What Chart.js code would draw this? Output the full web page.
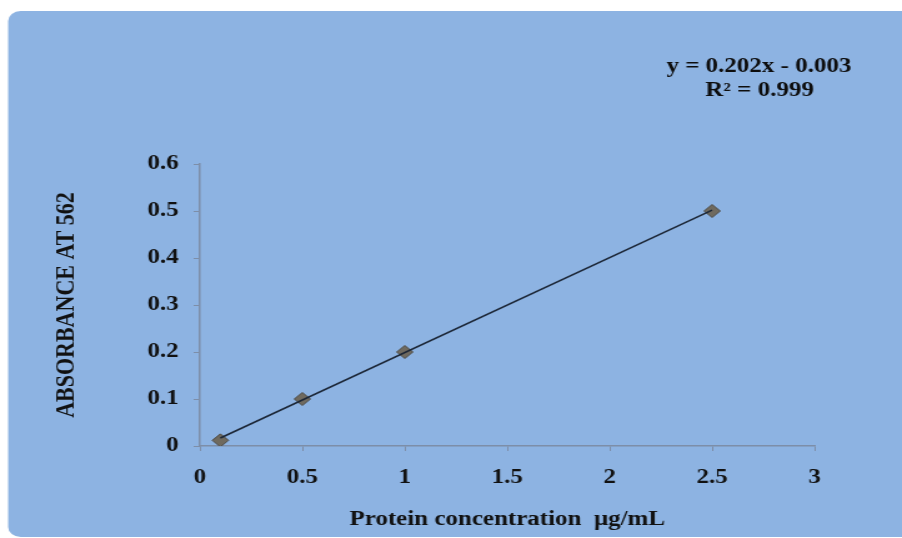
<!DOCTYPE html>
<html>
<head>
<meta charset="utf-8">
<script src="https://cdn.jsdelivr.net/npm/chart.js@4.4.0/dist/chart.umd.min.js"></script>
<style>
  html, body { margin: 0; padding: 0; background: #fff; }
  /* the original picture is stretched sideways, so the canvas is too */
  #std-curve { width: 902px; height: 538px; display: block; }
</style>
</head>
<body>
<canvas id="std-curve" width="722" height="538" style="width:902px;height:538px"></canvas>
<script>
// standard curve readings
let concentration = [0.1, 0.5, 1, 2.5];
let absorbance = [0.012, 0.1, 0.2, 0.5];
// trendline ends as drawn (y = 0.202x - 0.003)
let trendX = [0.1, 2.5];
let trendY = [0.017, 0.502];
let xTicks = [0, 0.5, 1, 1.5, 2, 2.5, 3];
let yTicks = [0, 0.1, 0.2, 0.3, 0.4, 0.5, 0.6];
let equation = ['y = 0.202x - 0.003', 'R\u00b2 = 0.999'];

let serif = "'Liberation Serif', 'Times New Roman', serif";
let axisColor = '#7d8ea8';

// blue rounded panel behind everything + the equation text
let panel = {
    id: 'panel',
    beforeDraw(chart) {
        let c = chart.ctx;
        c.save();
        c.fillStyle = '#8db3e2';
        c.beginPath();
        c.roundRect(6.5, 11, 730, 526, 10);
        c.fill();
        c.restore();
    },
    afterDraw(chart) {
        let c = chart.ctx;
        c.save();
        c.fillStyle = '#0d0d0d';
        c.font = 'bold 20px ' + serif;
        c.textAlign = 'center';
        c.textBaseline = 'middle';
        c.fillText(equation[0], 607.5, 67);
        c.fillText(equation[1], 608, 91);
        c.restore();
    }
};

let myChart = document.getElementById('std-curve').getContext('2d');

let stdChart = new Chart(myChart, {
    type: 'scatter',
    data: {
        datasets: [{
            label: 'trend',
            type: 'line',
            data: trendX.map((x, i) => ({x: x, y: trendY[i]})),
            borderColor: '#1b2636',
            borderWidth: 1.5,
            pointRadius: 0,
            fill: false
        }, {
            label: 'absorbance',
            data: concentration.map((x, i) => ({x: x, y: absorbance[i]})),
            pointStyle: 'rectRot',
            pointRadius: 6.5,
            backgroundColor: '#6f6a5f',
            borderColor: '#4d4a44',
            borderWidth: 1
        }]
    },
    options: {
        responsive: false,
        animation: false,
        devicePixelRatio: 1,
        layout: {padding: {left: 0, right: 70, top: 164, bottom: 0}},
        plugins: {legend: {display: false}, tooltip: {enabled: false}},
        scales: {
            x: {
                type: 'linear',
                min: 0, max: 3,
                afterFit(scale) { scale.height = 92; },
                afterBuildTicks(scale) { scale.ticks = xTicks.map(v => ({value: v})); },
                border: {color: axisColor, width: 1.5},
                grid: {drawOnChartArea: false, drawTicks: true, tickLength: 5, color: axisColor},
                ticks: {
                    color: '#111',
                    padding: 15,
                    callback: v => String(v),
                    font: {family: serif, size: 20, weight: 'bold'}
                },
                title: {
                    display: true,
                    text: 'Protein concentration  \u03bcg/mL',
                    color: '#111',
                    padding: {top: 0, bottom: 6},
                    font: {family: serif, size: 20, weight: 'bold'}
                }
            },
            y: {
                min: 0, max: 0.6,
                afterFit(scale) { scale.width = 160; },
                afterBuildTicks(scale) { scale.ticks = yTicks.map(v => ({value: v})); },
                border: {color: axisColor, width: 1.5},
                grid: {drawOnChartArea: false, drawTicks: true, tickLength: 5, color: axisColor},
                ticks: {
                    color: '#111',
                    padding: 12,
                    callback: v => String(v),
                    font: {family: serif, size: 20, weight: 'bold'}
                },
                title: {
                    display: true,
                    text: 'ABSORBANCE AT 562',
                    color: '#111',
                    padding: {top: 40, bottom: 0},
                    font: {family: serif, size: 22, weight: 'bold'}
                }
            }
        }
    },
    plugins: [panel]
});
</script>
</body>
</html>
